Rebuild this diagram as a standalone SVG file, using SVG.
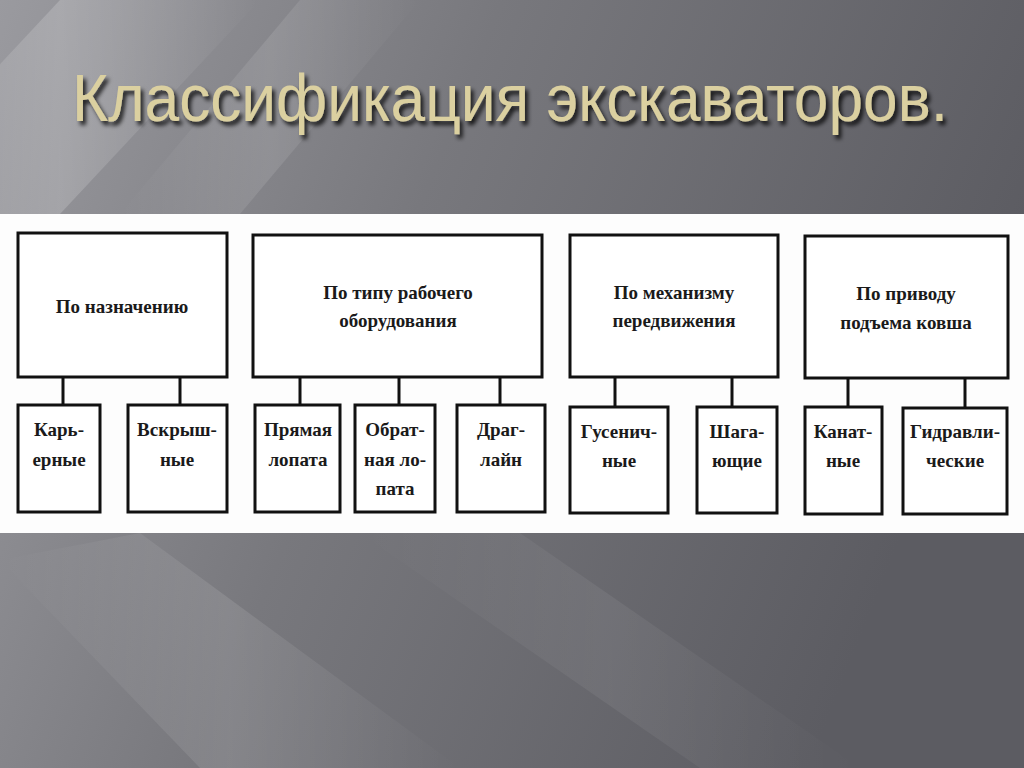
<svg xmlns="http://www.w3.org/2000/svg" width="1024" height="768" viewBox="0 0 1024 768">
<defs>
<linearGradient id="bg" x1="0" y1="0" x2="1" y2="0.3">
<stop offset="0" stop-color="#9a9a9f"/>
<stop offset="0.45" stop-color="#78787d"/>
<stop offset="1" stop-color="#5c5c62"/>
</linearGradient>
<linearGradient id="streak" x1="0" y1="0" x2="1" y2="0">
<stop offset="0" stop-color="#ffffff" stop-opacity="0"/>
<stop offset="0.5" stop-color="#ffffff" stop-opacity="0.18"/>
<stop offset="1" stop-color="#ffffff" stop-opacity="0"/>
</linearGradient>
<filter id="sh" x="-5%" y="-20%" width="110%" height="150%">
<feGaussianBlur in="SourceAlpha" stdDeviation="2"/>
<feOffset dx="3" dy="4" result="b"/>
<feFlood flood-color="#000" flood-opacity="0.8"/>
<feComposite in2="b" operator="in"/>
<feMerge><feMergeNode/><feMergeNode in="SourceGraphic"/></feMerge>
</filter>
<style>
.box{fill:#fff;stroke:#111;stroke-width:3}
.t{font-family:"Liberation Serif","DejaVu Serif",serif;font-weight:bold;font-size:19px;fill:#1a1a1a;text-anchor:middle}
.c{stroke:#111;stroke-width:3;fill:none}
</style>
</defs>
<rect width="1024" height="768" fill="url(#bg)"/>
<polygon points="60,0 260,0 60,214 -140,214" fill="url(#streak)"/>
<polygon points="300,0 420,0 240,214 120,214" fill="url(#streak)" opacity="0.6"/>
<polygon points="0,560 140,533 460,768 200,768" fill="url(#streak)" opacity="0.6"/>
<polygon points="360,533 520,533 860,768 700,768" fill="url(#streak)" opacity="0.35"/>
<text x="72" y="121" font-family="Liberation Sans, Arial, sans-serif" font-size="67" fill="#dbd0a0" textLength="876" lengthAdjust="spacingAndGlyphs" filter="url(#sh)">Классификация экскаваторов.</text>
<rect x="0" y="214" width="1024" height="319" fill="#fdfdfd"/>
<g id="connectors">
<line class="c" x1="63" y1="377" x2="63" y2="405"/>
<line class="c" x1="180" y1="377" x2="180" y2="405"/>
<line class="c" x1="300" y1="377" x2="300" y2="405"/>
<line class="c" x1="399" y1="377" x2="399" y2="405"/>
<line class="c" x1="500" y1="377" x2="500" y2="405"/>
<line class="c" x1="615" y1="377" x2="615" y2="407"/>
<line class="c" x1="732" y1="377" x2="732" y2="407"/>
<line class="c" x1="848" y1="378" x2="848" y2="407"/>
<line class="c" x1="965" y1="378" x2="965" y2="408"/>
</g>
<g id="n1"><rect class="box" x="18" y="233" width="209" height="144"/><text class="t" x="122" y="313">По назначению</text></g>
<g id="n2"><rect class="box" x="253" y="235" width="289" height="142"/><text class="t" x="398" y="299">По типу рабочего</text><text class="t" x="398" y="327">оборудования</text></g>
<g id="n3"><rect class="box" x="570" y="235" width="208" height="142"/><text class="t" x="674" y="299">По механизму</text><text class="t" x="674" y="327">передвижения</text></g>
<g id="n4"><rect class="box" x="805" y="236" width="203" height="142"/><text class="t" x="906" y="300">По приводу</text><text class="t" x="906" y="329">подъема ковша</text></g>
<g id="c1"><rect class="box" x="18" y="405" width="82" height="107"/><text class="t" x="59" y="436">Карь-</text><text class="t" x="59" y="466">ерные</text></g>
<g id="c2"><rect class="box" x="128" y="405" width="99" height="107"/><text class="t" x="177" y="436">Вскрыш-</text><text class="t" x="177" y="466">ные</text></g>
<g id="c3"><rect class="box" x="255" y="405" width="85" height="107"/><text class="t" x="298" y="436">Прямая</text><text class="t" x="298" y="466">лопата</text></g>
<g id="c4"><rect class="box" x="355" y="405" width="80" height="107"/><text class="t" x="395" y="436">Обрат-</text><text class="t" x="395" y="466">ная ло-</text><text class="t" x="395" y="495">пата</text></g>
<g id="c5"><rect class="box" x="457" y="405" width="88" height="107"/><text class="t" x="501" y="436">Драг-</text><text class="t" x="501" y="466">лайн</text></g>
<g id="c6"><rect class="box" x="570" y="407" width="98" height="106"/><text class="t" x="619" y="438">Гусенич-</text><text class="t" x="619" y="467">ные</text></g>
<g id="c7"><rect class="box" x="697" y="407" width="80" height="106"/><text class="t" x="737" y="438">Шага-</text><text class="t" x="737" y="467">ющие</text></g>
<g id="c8"><rect class="box" x="805" y="407" width="77" height="107"/><text class="t" x="843" y="438">Канат-</text><text class="t" x="843" y="467">ные</text></g>
<g id="c9"><rect class="box" x="903" y="408" width="104" height="106"/><text class="t" x="955" y="438">Гидравли-</text><text class="t" x="955" y="467">ческие</text></g>
</svg>
